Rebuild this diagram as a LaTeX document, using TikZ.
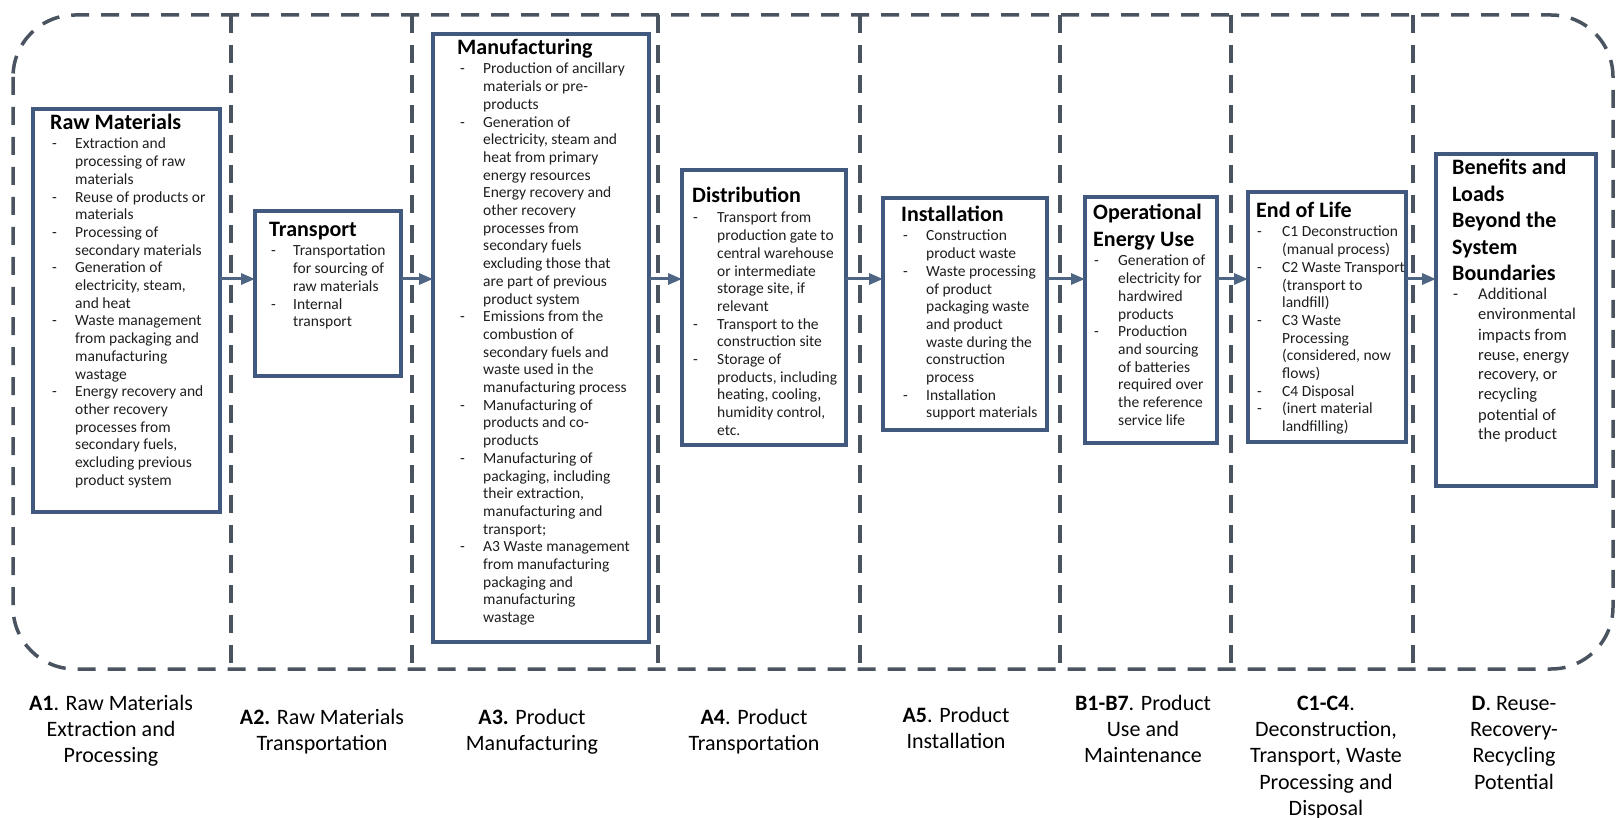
\documentclass[tikz,border=0pt]{standalone}
\usepackage{fontspec}
\setmainfont{Carlito}
\usetikzlibrary{arrows.meta}
\definecolor{boxc}{HTML}{41597F}
\definecolor{dashc}{HTML}{4A5460}
\definecolor{arrc}{HTML}{4E6584}
\definecolor{txtc}{HTML}{1E1E1E}
\newcommand\blist[2]{\begin{tabular}[t]{@{}p{#1}@{}l@{}}#2\end{tabular}}
\newcommand\tlines[1]{\begin{tabular}[t]{@{}l@{}}#1\end{tabular}}
\newcommand\clines[1]{\begin{tabular}[t]{@{}c@{}}#1\end{tabular}}
\begin{document}
\begin{tikzpicture}[x=1pt,y=-1pt,
  stagebox/.style={draw=boxc, line width=3.5pt, inner sep=0pt, outer sep=0pt},
  dashline/.style={draw=dashc, line width=3.5pt, dash pattern=on 18pt off 12pt},
  flow/.style={draw=arrc, line width=3pt, -{Triangle[length=14pt,width=11pt]}},
  ttl/.style={font=\fontsize{22}{26.5}\selectfont\bfseries, inner sep=0pt, text=black, anchor=base west},
  bod/.style={font=\fontsize{15.5}{17.7}\selectfont, inner sep=0pt, text=txtc, anchor=base west},
  bodl/.style={font=\fontsize{16.5}{20}\selectfont, inner sep=0pt, text=txtc, anchor=base west},
  lab/.style={font=\fontsize{22}{26.4}\selectfont, inner sep=0pt, text=black, anchor=base}]
\useasboundingbox[fill=white] (0,0) rectangle (1622,818);

% outer frame and dividers
\draw[dashline, rounded corners=62pt] (13,15) rectangle (1613,669);
\foreach \xx [count=\i] in {231,412,658,860,1060,1231,1413}{
  \draw[dashline] (\xx,15) -- (\xx,669);
}

% boxes
\node[stagebox, minimum width=187pt, minimum height=403pt] (raw)   at (126.5,310.5) {};
\node[stagebox, minimum width=146pt, minimum height=165pt] (trans) at (328,293.5) {};
\node[stagebox, minimum width=216pt, minimum height=608pt] (manu)  at (541,338) {};
\node[stagebox, minimum width=164pt, minimum height=275pt] (dist)  at (764,307.5) {};
\node[stagebox, minimum width=164pt, minimum height=232pt] (inst)  at (965,314) {};
\node[stagebox, minimum width=132pt, minimum height=246pt] (oper)  at (1151,320) {};
\node[stagebox, minimum width=158pt, minimum height=250pt] (eol)   at (1327,317) {};
\node[stagebox, minimum width=160pt, minimum height=332pt] (ben)   at (1516,320) {};

% arrows
\coordinate (ay) at (0,279);
\draw[flow] (raw.east |- ay) -- (trans.west |- ay);
\draw[flow] (trans.east |- ay) -- (manu.west |- ay);
\draw[flow] (manu.east |- ay) -- (dist.west |- ay);
\draw[flow] (dist.east |- ay) -- (inst.west |- ay);
\draw[flow] (inst.east |- ay) -- (oper.west |- ay);
\draw[flow] (oper.east |- ay) -- (eol.west |- ay);
\draw[flow] (eol.east |- ay) -- (ben.west |- ay);

% Raw materials
\node[ttl] (rawt) at (50,130) {Raw Materials};
\node[bod] (rawb) at (52,149) {\blist{23pt}{
-&Extraction and\\ &processing of raw\\ &materials\\
-&Reuse of products or\\ &materials\\
-&Processing of\\ &secondary materials\\
-&Generation of\\ &electricity, steam,\\ &and heat\\
-&Waste management\\ &from packaging and\\ &manufacturing\\ &wastage\\
-&Energy recovery and\\ &other recovery\\ &processes from\\ &secondary fuels,\\ &excluding previous\\ &product system}};

% Transport
\node[ttl] (transt) at (269,237) {Transport};
\node[bod] (transb) at (271,256) {\blist{22pt}{
-&Transportation\\ &for sourcing of\\ &raw materials\\
-&Internal\\ &transport}};

% Manufacturing
\node[ttl] (manut) at (457,55) {Manufacturing};
\node[bod] (manub) at (460,74) {\blist{23pt}{
-&Production of ancillary\\ &materials or pre-\\ &products\\
-&Generation of\\ &electricity, steam and\\ &heat from primary\\ &energy resources\\ &Energy recovery and\\ &other recovery\\ &processes from\\ &secondary fuels\\ &excluding those that\\ &are part of previous\\ &product system\\
-&Emissions from the\\ &combustion of\\ &secondary fuels and\\ &waste used in the\\ &manufacturing process\\
-&Manufacturing of\\ &products and co-\\ &products\\
-&Manufacturing of\\ &packaging, including\\ &their extraction,\\ &manufacturing and\\ &transport;\\
-&A3 Waste management\\ &from manufacturing\\ &packaging and\\ &manufacturing\\ &wastage}};

% Distribution
\node[ttl] (distt) at (692,203) {Distribution};
\node[bod] (distb) at (693,223) {\blist{24pt}{
-&Transport from\\ &production gate to\\ &central warehouse\\ &or intermediate\\ &storage site, if\\ &relevant\\
-&Transport to the\\ &construction site\\
-&Storage of\\ &products, including\\ &heating, cooling,\\ &humidity control,\\ &etc.}};

% Installation
\node[ttl] (instt) at (901,222) {Installation};
\node[bod] (instb) at (903,241) {\blist{23pt}{
-&Construction\\ &product waste\\
-&Waste processing\\ &of product\\ &packaging waste\\ &and product\\ &waste during the\\ &construction\\ &process\\
-&Installation\\ &support materials}};

% Operational energy use
\node[ttl] (opert) at (1093,220) {\tlines{Operational\\Energy Use}};
\node[bod] (operb) at (1094,266) {\blist{24pt}{
-&Generation of\\ &electricity for\\ &hardwired\\ &products\\
-&Production\\ &and sourcing\\ &of batteries\\ &required over\\ &the reference\\ &service life}};

% End of life
\node[ttl] (eolt) at (1256,218) {End of Life};
\node[bod] (eolb) at (1257,237) {\blist{25pt}{
-&C1 Deconstruction\\ &(manual process)\\
-&C2 Waste Transport\\ &(transport to\\ &landfill)\\
-&C3 Waste\\ &Processing\\ &(considered, now\\ &flows)\\
-&C4 Disposal\\
-&(inert material\\ &landfilling)}};

% Benefits
\node[ttl] (bent) at (1452,175) {\tlines{Benefits and\\Loads\\Beyond the\\System\\Boundaries}};
\node[bodl] (benb) at (1453,300) {\blist{25pt}{
-&Additional\\ &environmental\\ &impacts from\\ &reuse, energy\\ &recovery, or\\ &recycling\\ &potential of\\ &the product}};

% bottom labels
\node[lab] (la1) at (111,710) {\clines{\textbf{A1}. Raw Materials\\Extraction and\\Processing}};
\node[lab] (la2) at (322,724) {\clines{\textbf{A2.} Raw Materials\\Transportation}};
\node[lab] (la3) at (532,724) {\clines{\textbf{A3.} Product\\Manufacturing}};
\node[lab] (la4) at (754,724) {\clines{\textbf{A4}. Product\\Transportation}};
\node[lab] (la5) at (956,722) {\clines{\textbf{A5}. Product\\Installation}};
\node[lab] (lb)  at (1143,710) {\clines{\textbf{B1-B7}. Product\\Use and\\Maintenance}};
\node[lab] (lc)  at (1326,710) {\clines{\textbf{C1-C4}.\\Deconstruction,\\Transport, Waste\\Processing and\\Disposal}};
\node[lab] (ld)  at (1514,710) {\clines{\textbf{D}. Reuse-\\Recovery-\\Recycling\\Potential}};
\end{tikzpicture}
\end{document}
